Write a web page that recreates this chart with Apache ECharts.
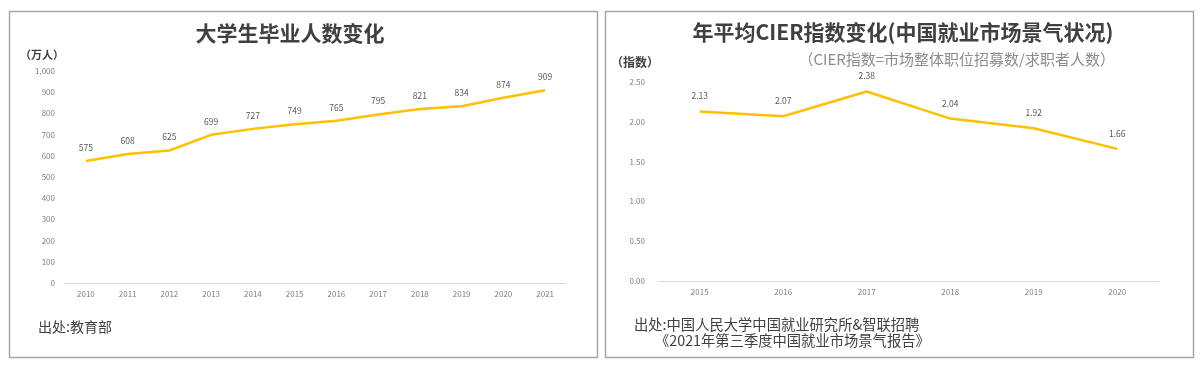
<!DOCTYPE html>
<html><head><meta charset="utf-8">
<script src="https://cdn.jsdelivr.net/npm/echarts@6/dist/echarts.min.js"></script>
<style>html,body{margin:0;padding:0;background:#fff}#c{width:1200px;height:370px}</style>
</head><body><div id="c"></div>
<script>
const gradYears = ['2010','2011','2012','2013','2014','2015','2016','2017','2018','2019','2020','2021'];
const gradValues = [575,608,625,699,727,749,765,795,821,834,874,909];
const cierYears = ['2015','2016','2017','2018','2019','2020'];
const cierValues = [2.13,2.07,2.38,2.04,1.92,1.66];

const FONT = '"Noto Sans CJK SC","Noto Sans",sans-serif';
const LINE = '#FFC000';
const chart = echarts.init(document.getElementById('c'), null, {renderer:'canvas'});
const axisLbl = {color:'#7f7f7f', fontSize:8, fontFamily:FONT};
chart.setOption({
  animation:false,
  textStyle:{fontFamily:FONT},
  graphic:[
    {type:'rect', shape:{x:9.5,y:11.5,width:588,height:346}, style:{fill:'none',stroke:'#a6a6a6',lineWidth:1.5}},
    {type:'rect', shape:{x:605.5,y:11.5,width:588,height:346}, style:{fill:'none',stroke:'#a6a6a6',lineWidth:1.5}},
    {type:'text', x:290, y:33, style:{text:'大学生毕业人数变化', fill:'#404040', font:'bold 21px '+FONT, textAlign:'center', textVerticalAlign:'middle'}},
    {type:'text', x:20, y:55, style:{text:'（万人）', fill:'#404040', font:'bold 11px '+FONT, textAlign:'left', textVerticalAlign:'middle'}},
    {type:'text', x:38, y:327, style:{text:'出处:教育部', fill:'#404040', font:'14px '+FONT, textAlign:'left', textVerticalAlign:'middle'}},
    {type:'text', x:903, y:32, style:{text:'年平均CIER指数变化(中国就业市场景气状况)', fill:'#404040', font:'bold 21px '+FONT, textAlign:'center', textVerticalAlign:'middle'}},
    {type:'text', x:611, y:62, style:{text:'（指数）', fill:'#404040', font:'bold 12px '+FONT, textAlign:'left', textVerticalAlign:'middle'}},
    {type:'text', x:1115, y:59, style:{text:'（CIER指数=市场整体职位招募数/求职者人数）', fill:'#8c8c8c', font:'15px '+FONT, textAlign:'right', textVerticalAlign:'middle'}},
    {type:'text', x:634, y:325, style:{text:'出处:中国人民大学中国就业研究所&智联招聘', fill:'#404040', font:'14.3px '+FONT, textAlign:'left', textVerticalAlign:'middle'}},
    {type:'text', x:655, y:341, style:{text:'《2021年第三季度中国就业市场景气报告》', fill:'#404040', font:'14.3px '+FONT, textAlign:'left', textVerticalAlign:'middle'}}
  ],
  grid:[
    {left:65, right:634, top:71, bottom:87},
    {left:658, right:41, top:82, bottom:89}
  ],
  xAxis:[
    {type:'category', gridIndex:0, data:gradYears, boundaryGap:true,
     axisLine:{lineStyle:{color:'#d9d9d9', width:1}}, axisTick:{show:false},
     axisLabel:Object.assign({margin:7}, axisLbl)},
    {type:'category', gridIndex:1, data:cierYears, boundaryGap:true,
     axisLine:{lineStyle:{color:'#d9d9d9', width:1}}, axisTick:{show:false},
     axisLabel:Object.assign({margin:7}, axisLbl)}
  ],
  yAxis:[
    {type:'value', gridIndex:0, min:0, max:1000, interval:100,
     axisLine:{show:false}, axisTick:{show:false}, splitLine:{show:false},
     axisLabel:Object.assign({margin:10, formatter:v=>v.toLocaleString('en-US')}, axisLbl)},
    {type:'value', gridIndex:1, min:0, max:2.5, interval:0.5,
     axisLine:{show:false}, axisTick:{show:false}, splitLine:{show:false},
     axisLabel:Object.assign({margin:13, formatter:v=>v.toFixed(2)}, axisLbl)}
  ],
  series:[
    {type:'line', xAxisIndex:0, yAxisIndex:0, data:gradValues, symbol:'circle', symbolSize:0.1,
     lineStyle:{color:LINE, width:2.5}, itemStyle:{color:LINE},
     label:{show:true, position:'top', distance:9, color:'#595959', fontSize:8.5, fontFamily:FONT}},
    {type:'line', xAxisIndex:1, yAxisIndex:1, data:cierValues, symbol:'circle', symbolSize:0.1,
     lineStyle:{color:LINE, width:2.5}, itemStyle:{color:LINE},
     label:{show:true, position:'top', distance:11, color:'#595959', fontSize:8.5, fontFamily:FONT, formatter:p=>p.value.toFixed(2)}}
  ]
});
</script></body></html>
